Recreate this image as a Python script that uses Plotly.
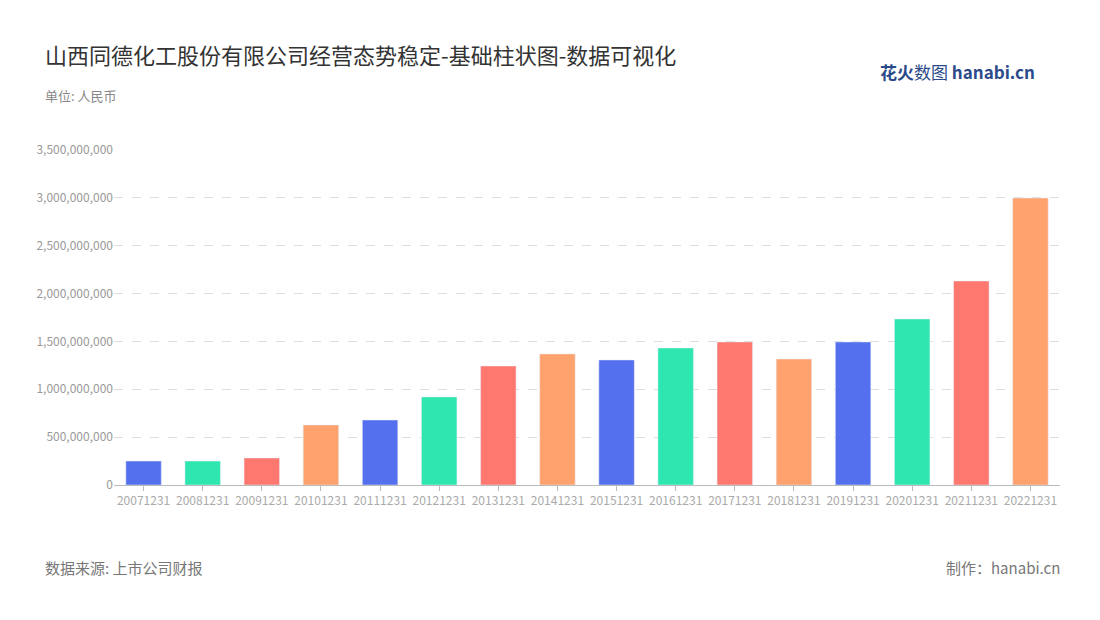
import plotly.graph_objects as go

categories = ["20071231","20081231","20091231","20101231","20111231","20121231","20131231","20141231",
              "20151231","20161231","20171231","20181231","20191231","20201231","20211231","20221231"]
values = [250e6,250e6,282e6,627e6,679e6,920e6,1243e6,1369e6,1306e6,1431e6,1494e6,1316e6,1494e6,1734e6,2131e6,2998e6]
palette = ["#5470EE","#2EE6B0","#FF7870","#FFA26E"]
colors = [palette[i % 4] for i in range(len(categories))]
tickvals = [0,5e8,1e9,1.5e9,2e9,2.5e9,3e9,3.5e9]
ticktext = ["0","500,000,000","1,000,000,000","1,500,000,000","2,000,000,000","2,500,000,000","3,000,000,000","3,500,000,000"]

W, H = 1084, 604
L, R, T, B = 106, 32, 141, 127
font = "Noto Sans CJK SC"
fig = go.Figure(go.Bar(x=categories, y=values, marker_color=colors, width=0.6))
fig.update_layout(
    width=W, height=H, plot_bgcolor="white", paper_bgcolor="white",
    margin=dict(l=L, r=R, t=T, b=B),
    font=dict(family=font, color="#999"),
    showlegend=False,
    xaxis=dict(type="category", tickfont=dict(size=12, color="#aaa"), showline=True, linecolor="#bbb",
               ticks="outside", tickcolor="#bbb", ticklen=5, tickangle=0),
    yaxis=dict(range=[0,3.51e9], tickvals=tickvals, ticktext=ticktext, tickfont=dict(size=12, color="#999"),
               showgrid=True, gridcolor="#ddd", griddash="dash", zeroline=False, showline=False),
    annotations=[
        dict(text="山西同德化工股份有限公司经营态势稳定-基础柱状图-数据可视化", x=35, y=46,
             showarrow=False, font=dict(size=22, color="#333", family=font), xanchor="left", yanchor="middle"),
        dict(text="单位: 人民币", x=35, y=88, showarrow=False, font=dict(size=13, color="#888", family=font), xanchor="left", yanchor="middle"),
        dict(text="数据来源: 上市公司财报", x=35, y=559, showarrow=False, font=dict(size=15, color="#777", family=font), xanchor="left", yanchor="middle"),
        dict(text="制作：hanabi.cn", x=1054, y=559, showarrow=False, font=dict(size=15, color="#777", family=font), xanchor="right", yanchor="middle"),
        dict(text="<b>花火</b>数图 <b>hanabi.cn</b>", x=1029, y=64, showarrow=False, font=dict(size=17, color="#2b4a8a", family=font), xanchor="right", yanchor="middle"),
    ],
)
for a in fig.layout.annotations:
    a.xref = "paper"; a.yref = "paper"
    a.x = (a.x - L) / (W - L - R)
    a.y = 1 - (a.y - T) / (H - T - B)
fig.write_html("out.html")
